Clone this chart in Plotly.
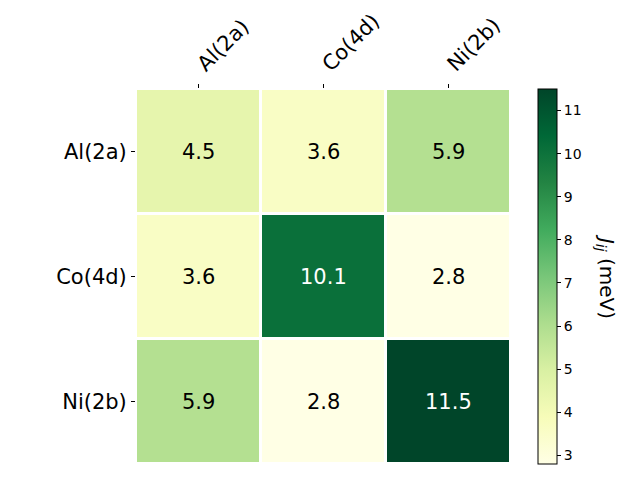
import plotly.graph_objects as go

sites = ["Al(2a)", "Co(4d)", "Ni(2b)"]
jij_values = [
    [4.5, 3.6, 5.9],
    [3.6, 10.1, 2.8],
    [5.9, 2.8, 11.5],
]
cbar_ticks = [3, 4, 5, 6, 7, 8, 9, 10, 11]

# matplotlib's YlGn (colorbrewer 9-class)
ylgn = ["#ffffe5", "#f7fcb9", "#d9f0a3", "#addd8e", "#78c679",
        "#41ab5d", "#238443", "#006837", "#004529"]
zmin = min(min(r) for r in jij_values)
zmax = max(max(r) for r in jij_values)

fig = go.Figure(
    go.Heatmap(
        z=jij_values,
        x=sites,
        y=sites,
        colorscale=[[i / (len(ylgn) - 1), c] for i, c in enumerate(ylgn)],
        zmin=zmin,
        zmax=zmax,
        xgap=3,
        ygap=3,
        hovertemplate="%{y} - %{x}<br>J: %{z} meV<extra></extra>",
        colorbar=dict(
            x=1.072,
            xanchor="left",
            xpad=0,
            y=0.5,
            ypad=0,
            len=1.0,
            lenmode="fraction",
            thickness=19,
            outlinecolor="black",
            outlinewidth=1,
            tickvals=cbar_ticks,
            ticks="outside",
            ticklen=4,
            tickcolor="black",
            tickfont=dict(size=14, color="black"),
        ),
    )
)

threshold = zmin + 0.6 * (zmax - zmin)
for i, row_site in enumerate(sites):
    for j, col_site in enumerate(sites):
        v = jij_values[i][j]
        fig.add_annotation(
            x=col_site,
            y=row_site,
            text=f"{v:.1f}",
            showarrow=False,
            font=dict(size=21, color="white" if v > threshold else "black"),
        )

fig.add_annotation(
    x=1.255,
    y=0.5,
    xref="paper",
    yref="paper",
    xanchor="center",
    yanchor="middle",
    text="<i>J</i><sub><i>ij</i></sub> (meV)",
    textangle=90,
    showarrow=False,
    font=dict(size=20, color="black"),
)

fig.update_layout(
    width=640,
    height=480,
    margin=dict(l=136, r=129, t=89, b=16, autoexpand=False),
    paper_bgcolor="white",
    plot_bgcolor="white",
    font=dict(family="DejaVu Sans", color="black"),
)
fig.update_xaxes(
    side="top",
    tickangle=-45,
    ticks="outside",
    ticklen=4,
    tickcolor="black",
    tickfont=dict(size=21),
    showgrid=False,
    zeroline=False,
    automargin=False,
)
fig.update_yaxes(
    autorange="reversed",
    ticks="outside",
    ticklen=4,
    tickcolor="black",
    tickfont=dict(size=21),
    showgrid=False,
    zeroline=False,
    automargin=False,
)

fig.write_html(
    "out.html",
    config={"displayModeBar": False},
    post_script="document.body.style.margin = '0';",
)
